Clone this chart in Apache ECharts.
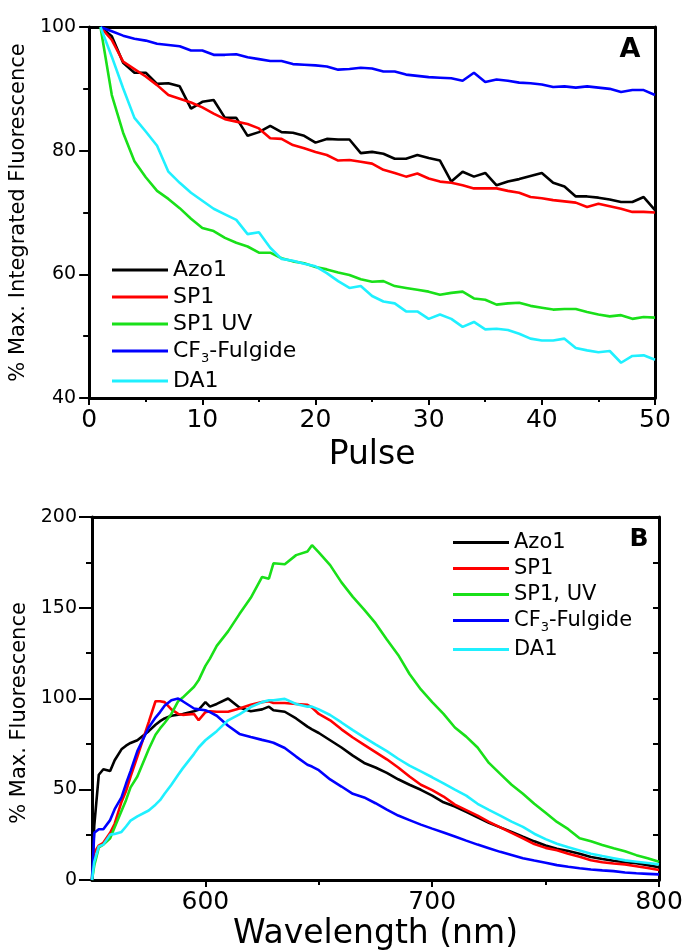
<!DOCTYPE html>
<html>
<head>
<meta charset="utf-8">
<script src="https://cdn.jsdelivr.net/npm/echarts@6/dist/echarts.min.js"></script>
<style>
html,body{margin:0;padding:0;background:#fff;}
#chart{width:688px;height:952px;}
</style>
</head>
<body>
<div id="chart"></div>
<script>
// ---------- Panel A data ----------
const pulses = [1,2,3,4,5,6,7,8,9,10,11,12,13,14,15,16,17,18,19,20,21,22,23,24,25,26,27,28,29,30,31,32,33,34,35,36,37,38,39,40,41,42,43,44,45,46,47,48,49,50];
const azo1Pulse = [100,98.5,94.2,92.6,92.6,90.8,90.9,90.4,86.8,87.9,88.2,85.3,85.3,82.4,83.0,84.0,83.0,82.9,82.4,81.3,81.9,81.8,81.8,79.6,79.8,79.5,78.7,78.7,79.3,78.8,78.4,75.0,76.6,75.8,76.4,74.4,75.0,75.4,75.9,76.4,74.8,74.2,72.6,72.6,72.4,72.1,71.7,71.7,72.5,70.4];
const sp1Pulse = [100,97.9,94.4,93.2,92.0,90.6,89.0,88.4,87.8,87.0,86.0,85.1,84.7,84.3,83.6,82.0,81.9,80.9,80.4,79.8,79.3,78.4,78.5,78.2,77.9,76.9,76.4,75.8,76.3,75.5,75.0,74.8,74.4,73.9,73.9,73.9,73.5,73.2,72.5,72.3,72.0,71.8,71.6,70.9,71.4,71.0,70.6,70.1,70.1,70.0];
const sp1uvPulse = [100,89.0,82.9,78.3,75.7,73.5,72.2,70.7,69.0,67.5,67.0,65.9,65.1,64.5,63.5,63.5,62.6,62.1,61.8,61.2,60.8,60.3,59.9,59.2,58.8,58.9,58.1,57.8,57.5,57.2,56.7,57.0,57.2,56.1,55.9,55.1,55.3,55.4,54.9,54.6,54.3,54.4,54.4,53.9,53.5,53.2,53.4,52.8,53.1,53.0];
const cf3Pulse = [100,99.3,98.6,98.1,97.8,97.3,97.1,96.9,96.2,96.2,95.5,95.5,95.6,95.1,94.8,94.5,94.5,94.0,93.9,93.8,93.6,93.1,93.2,93.4,93.3,92.8,92.8,92.3,92.1,91.9,91.8,91.7,91.3,92.6,91.1,91.5,91.3,91.0,90.9,90.7,90.3,90.4,90.2,90.4,90.2,90.0,89.5,89.8,89.8,89.0];
const da1Pulse = [100,95.2,90.1,85.3,83.1,80.8,76.6,74.8,73.2,71.9,70.6,69.7,68.8,66.5,66.8,64.3,62.5,62.2,61.7,61.3,60.2,58.9,57.8,58.1,56.5,55.6,55.3,54.0,54.0,52.8,53.5,52.8,51.5,52.3,51.1,51.2,51.0,50.4,49.6,49.3,49.3,49.6,48.1,47.7,47.4,47.6,45.7,46.8,46.9,46.2];

// ---------- Panel B data ----------
const wavelengths = [550,551,553,555,558,560,563,565,567,570,575,578,580,582,585,588,590,595,597,600,602,605,610,615,620,625,628,630,635,640,645,647,650,655,660,665,670,675,680,685,690,695,700,705,710,715,720,725,730,735,740,745,750,755,760,765,770,775,780,785,790,795,800];
const azo1Spec = [0,30,58,61,60,66,72,74,75.5,77,82,85.5,87.5,89,90.5,91,91.5,93,93.8,98,95.5,97,100,95,93,94,95.5,93.5,92.7,89,84.5,83,81,77,73,68.5,64.5,62,59,55.5,52.5,49.7,46.5,42.8,40.5,37.5,34.5,31.5,29,26.5,23.8,21.3,19,17.2,16,14.5,12.7,11.6,10.6,9.8,9.2,8.2,7];
const sp1Spec = [0,15,19,20.5,26,31,43,49,57,68,87,98.5,98.5,98,94,91.5,91,91.5,88,92.5,93,92.7,92.7,94.5,96.5,98,98.5,97.5,97.5,97,96.5,95,91.5,88,83,78.5,74.5,70.5,66.5,62,57,52.5,49.5,46,41.5,38.5,35.5,32,29,26,23,19.8,17.7,16.4,14.5,12.8,10.9,9.8,9.1,8.6,7.6,6.6,5.5];
const sp1uvSpec = [0,8,18,19.5,23,29,38,44,51,57,72,80,83.5,86.5,91.5,98.5,100.5,106.5,110,118,122,129,137,146.5,155.5,167,166,174.5,174,179,181,184.5,180.5,173.5,164,156,149,141.5,132.5,124,113.5,105,98,91.5,84,79,73,64.5,58.5,52.5,47.5,42,37,32,28,23,21.3,19.3,17.5,15.8,13.7,12,10];
const cf3Spec = [0,26,28,28,33,39,45.5,53,60,71,84,89.5,92.5,96,99,100,98.5,94.5,94,93.5,92.5,90.5,85,80.5,78.8,77.2,76.3,75.6,72.7,68,63.5,62.5,60.5,55.4,51.5,47.5,45.5,42.3,38.8,35.5,33,30.5,28.3,26.2,24,21.7,19.5,17.5,15.5,13.8,12,10.7,9.5,8.2,7.3,6.5,5.8,5.3,4.9,4.1,3.7,3.4,3.1];
const da1Spec = [0,10,18.5,19.5,25,25.4,26.5,29.5,32.7,35,38.3,41.5,44,47.5,52.5,58,61.5,69.5,73,77,79,82,88,91.3,95.3,98,99,99,99.8,97,95.5,95.5,94,90.9,86.8,82.6,78.6,74.7,71,66.8,63,59.8,56.6,53.2,49.8,46.5,42,38.6,35.5,32.2,29.3,25.5,22.5,20,18,16.3,14.5,13.2,12,10.8,10.1,9.4,8.6];

const namesA = ['Azo1','SP1','SP1 UV','CF3-Fulgide','DA1'];
const namesB = ['Azo1','SP1','SP1, UV','CF3-Fulgide','DA1'];
const colors = ['#000000','#ff0000','#19e019','#0000ff','#1ff0ff'];

const FONT = '"DejaVu Sans", "Liberation Sans", sans-serif';
const pair = (xs, ys) => xs.map((x, i) => [x, ys[i]]);

const seriesA = [azo1Pulse, sp1Pulse, sp1uvPulse, cf3Pulse, da1Pulse].map((d, i) => ({
  name: namesA[i], type: 'line', xAxisIndex: 0, yAxisIndex: 0,
  data: pair(pulses, d), showSymbol: false, symbol: 'none',
  lineStyle: { color: colors[i], width: 2.6 }, itemStyle: { color: colors[i] }
}));
const seriesB = [azo1Spec, sp1Spec, sp1uvSpec, cf3Spec, da1Spec].map((d, i) => ({
  name: namesB[i], type: 'line', xAxisIndex: 2, yAxisIndex: 2,
  data: pair(wavelengths, d), showSymbol: false, symbol: 'none',
  lineStyle: { color: colors[i], width: 2.6 }, itemStyle: { color: colors[i] }
}));

const legendFmt = (name) => name === 'CF3-Fulgide' ? '{a|CF}{s|3}{a|-Fulgide}' : '{a|' + name + '}';
function legendRich(fs, pad) {
  return {
    a: { fontFamily: FONT, fontSize: fs, lineHeight: fs, verticalAlign: 'top', color: '#000' },
    s: { fontFamily: FONT, fontSize: 13, lineHeight: 13, padding: [pad, 0, 0, 0], verticalAlign: 'top', color: '#000' }
  };
}

const black = '#000';
const axLine = { show: true, onZero: false, lineStyle: { color: black, width: 3 } };

const option = {
  animation: false,
  backgroundColor: '#fff',
  textStyle: { fontFamily: FONT, color: black },
  grid: [
    { left: 84, top: 27, width: 571, height: 371 },
    { left: 92, top: 517, width: 567, height: 366 }
  ],
  xAxis: [
    { gridIndex: 0, type: 'value', min: 0, max: 50, interval: 10, position: 'bottom',
      axisLine: axLine,
      axisTick: { show: true, length: 7, lineStyle: { color: black, width: 2 } },
      minorTick: { show: true, splitNumber: 2, length: 4, lineStyle: { color: black, width: 2 } },
      axisLabel: { fontSize: 25, margin: 10, color: black, fontFamily: FONT },
      splitLine: { show: false }, minorSplitLine: { show: false },
      name: 'Pulse', nameLocation: 'middle', nameGap: 41,
      nameTextStyle: { fontSize: 33, color: black, fontFamily: FONT } },
    { gridIndex: 0, type: 'value', min: 0, max: 50, position: 'top',
      axisLine: axLine, axisTick: { show: false }, axisLabel: { show: false }, splitLine: { show: false } },
    { gridIndex: 1, type: 'value', min: 550, max: 800, position: 'bottom',
      axisLine: axLine,
      axisTick: { show: true, length: 7, customValues: [600, 700, 800], lineStyle: { color: black, width: 2 } },
      axisLabel: { fontSize: 25, margin: 10, color: black, fontFamily: FONT, customValues: [600, 700, 800] },
      splitLine: { show: false },
      name: 'Wavelength (nm)', nameLocation: 'middle', nameGap: 38,
      nameTextStyle: { fontSize: 33, color: black, fontFamily: FONT } },
    { gridIndex: 1, type: 'value', min: 550, max: 800, position: 'bottom',
      axisLine: { show: false },
      axisTick: { show: true, length: 5, customValues: [650, 750], lineStyle: { color: black, width: 2 } },
      axisLabel: { show: false }, splitLine: { show: false } },
    { gridIndex: 1, type: 'value', min: 550, max: 800, position: 'top',
      axisLine: axLine, axisTick: { show: false }, axisLabel: { show: false }, splitLine: { show: false } }
  ],
  yAxis: [
    { gridIndex: 0, type: 'value', min: 40, max: 100, interval: 20, position: 'left',
      axisLine: axLine,
      axisTick: { show: true, length: 10, lineStyle: { color: black, width: 2 } },
      minorTick: { show: true, splitNumber: 2, length: 6, lineStyle: { color: black, width: 2 } },
      axisLabel: { fontSize: 19, margin: 13, color: black, fontFamily: FONT },
      splitLine: { show: false }, minorSplitLine: { show: false },
      name: '% Max. Integrated Fluorescence', nameLocation: 'middle', nameGap: 49,
      nameTextStyle: { fontSize: 21, color: black, fontFamily: FONT } },
    { gridIndex: 0, type: 'value', min: 40, max: 100, position: 'right',
      axisLine: axLine, axisTick: { show: false }, axisLabel: { show: false }, splitLine: { show: false } },
    { gridIndex: 1, type: 'value', min: 0, max: 200, interval: 50, position: 'left',
      axisLine: axLine,
      axisTick: { show: true, length: 13, lineStyle: { color: black, width: 2 } },
      minorTick: { show: true, splitNumber: 2, length: 6, lineStyle: { color: black, width: 2 } },
      axisLabel: { fontSize: 19, margin: 15, color: black, fontFamily: FONT },
      splitLine: { show: false }, minorSplitLine: { show: false },
      name: '% Max. Fluorescence', nameLocation: 'middle', nameGap: 57,
      nameTextStyle: { fontSize: 21, color: black, fontFamily: FONT, padding: [0, 29, 0, 0] } },
    { gridIndex: 1, type: 'value', min: 0, max: 200, interval: 25, position: 'right',
      axisLine: axLine,
      axisTick: { show: true, inside: true, length: 6, lineStyle: { color: black, width: 2 } },
      axisLabel: { show: false }, splitLine: { show: false } }
  ],
  legend: [
    { data: namesA, orient: 'vertical', left: 107, top: 254, itemWidth: 56, itemHeight: 3, itemGap: 5,
      icon: 'rect', formatter: legendFmt, selectedMode: false,
      textStyle: { fontFamily: FONT, fontSize: 22, color: black, rich: legendRich(22, 12) } },
    { data: namesB, orient: 'vertical', left: 448, top: 527, itemWidth: 56, itemHeight: 3, itemGap: 5,
      icon: 'rect', formatter: legendFmt, selectedMode: false,
      textStyle: { fontFamily: FONT, fontSize: 21, color: black, rich: legendRich(21, 11) } }
  ],
  graphic: [
    { type: 'text', x: 630, y: 50, style: { text: 'A', fontFamily: FONT, fontSize: 27, fontWeight: 'bold', fill: black, align: 'center', verticalAlign: 'middle' } },
    { type: 'text', x: 639, y: 539, style: { text: 'B', fontFamily: FONT, fontSize: 25, fontWeight: 'bold', fill: black, align: 'center', verticalAlign: 'middle' } }
  ],
  series: seriesA.concat(seriesB)
};

const chart = echarts.init(document.getElementById('chart'), null, { renderer: 'canvas' });
chart.setOption(option);
</script>
</body>
</html>
